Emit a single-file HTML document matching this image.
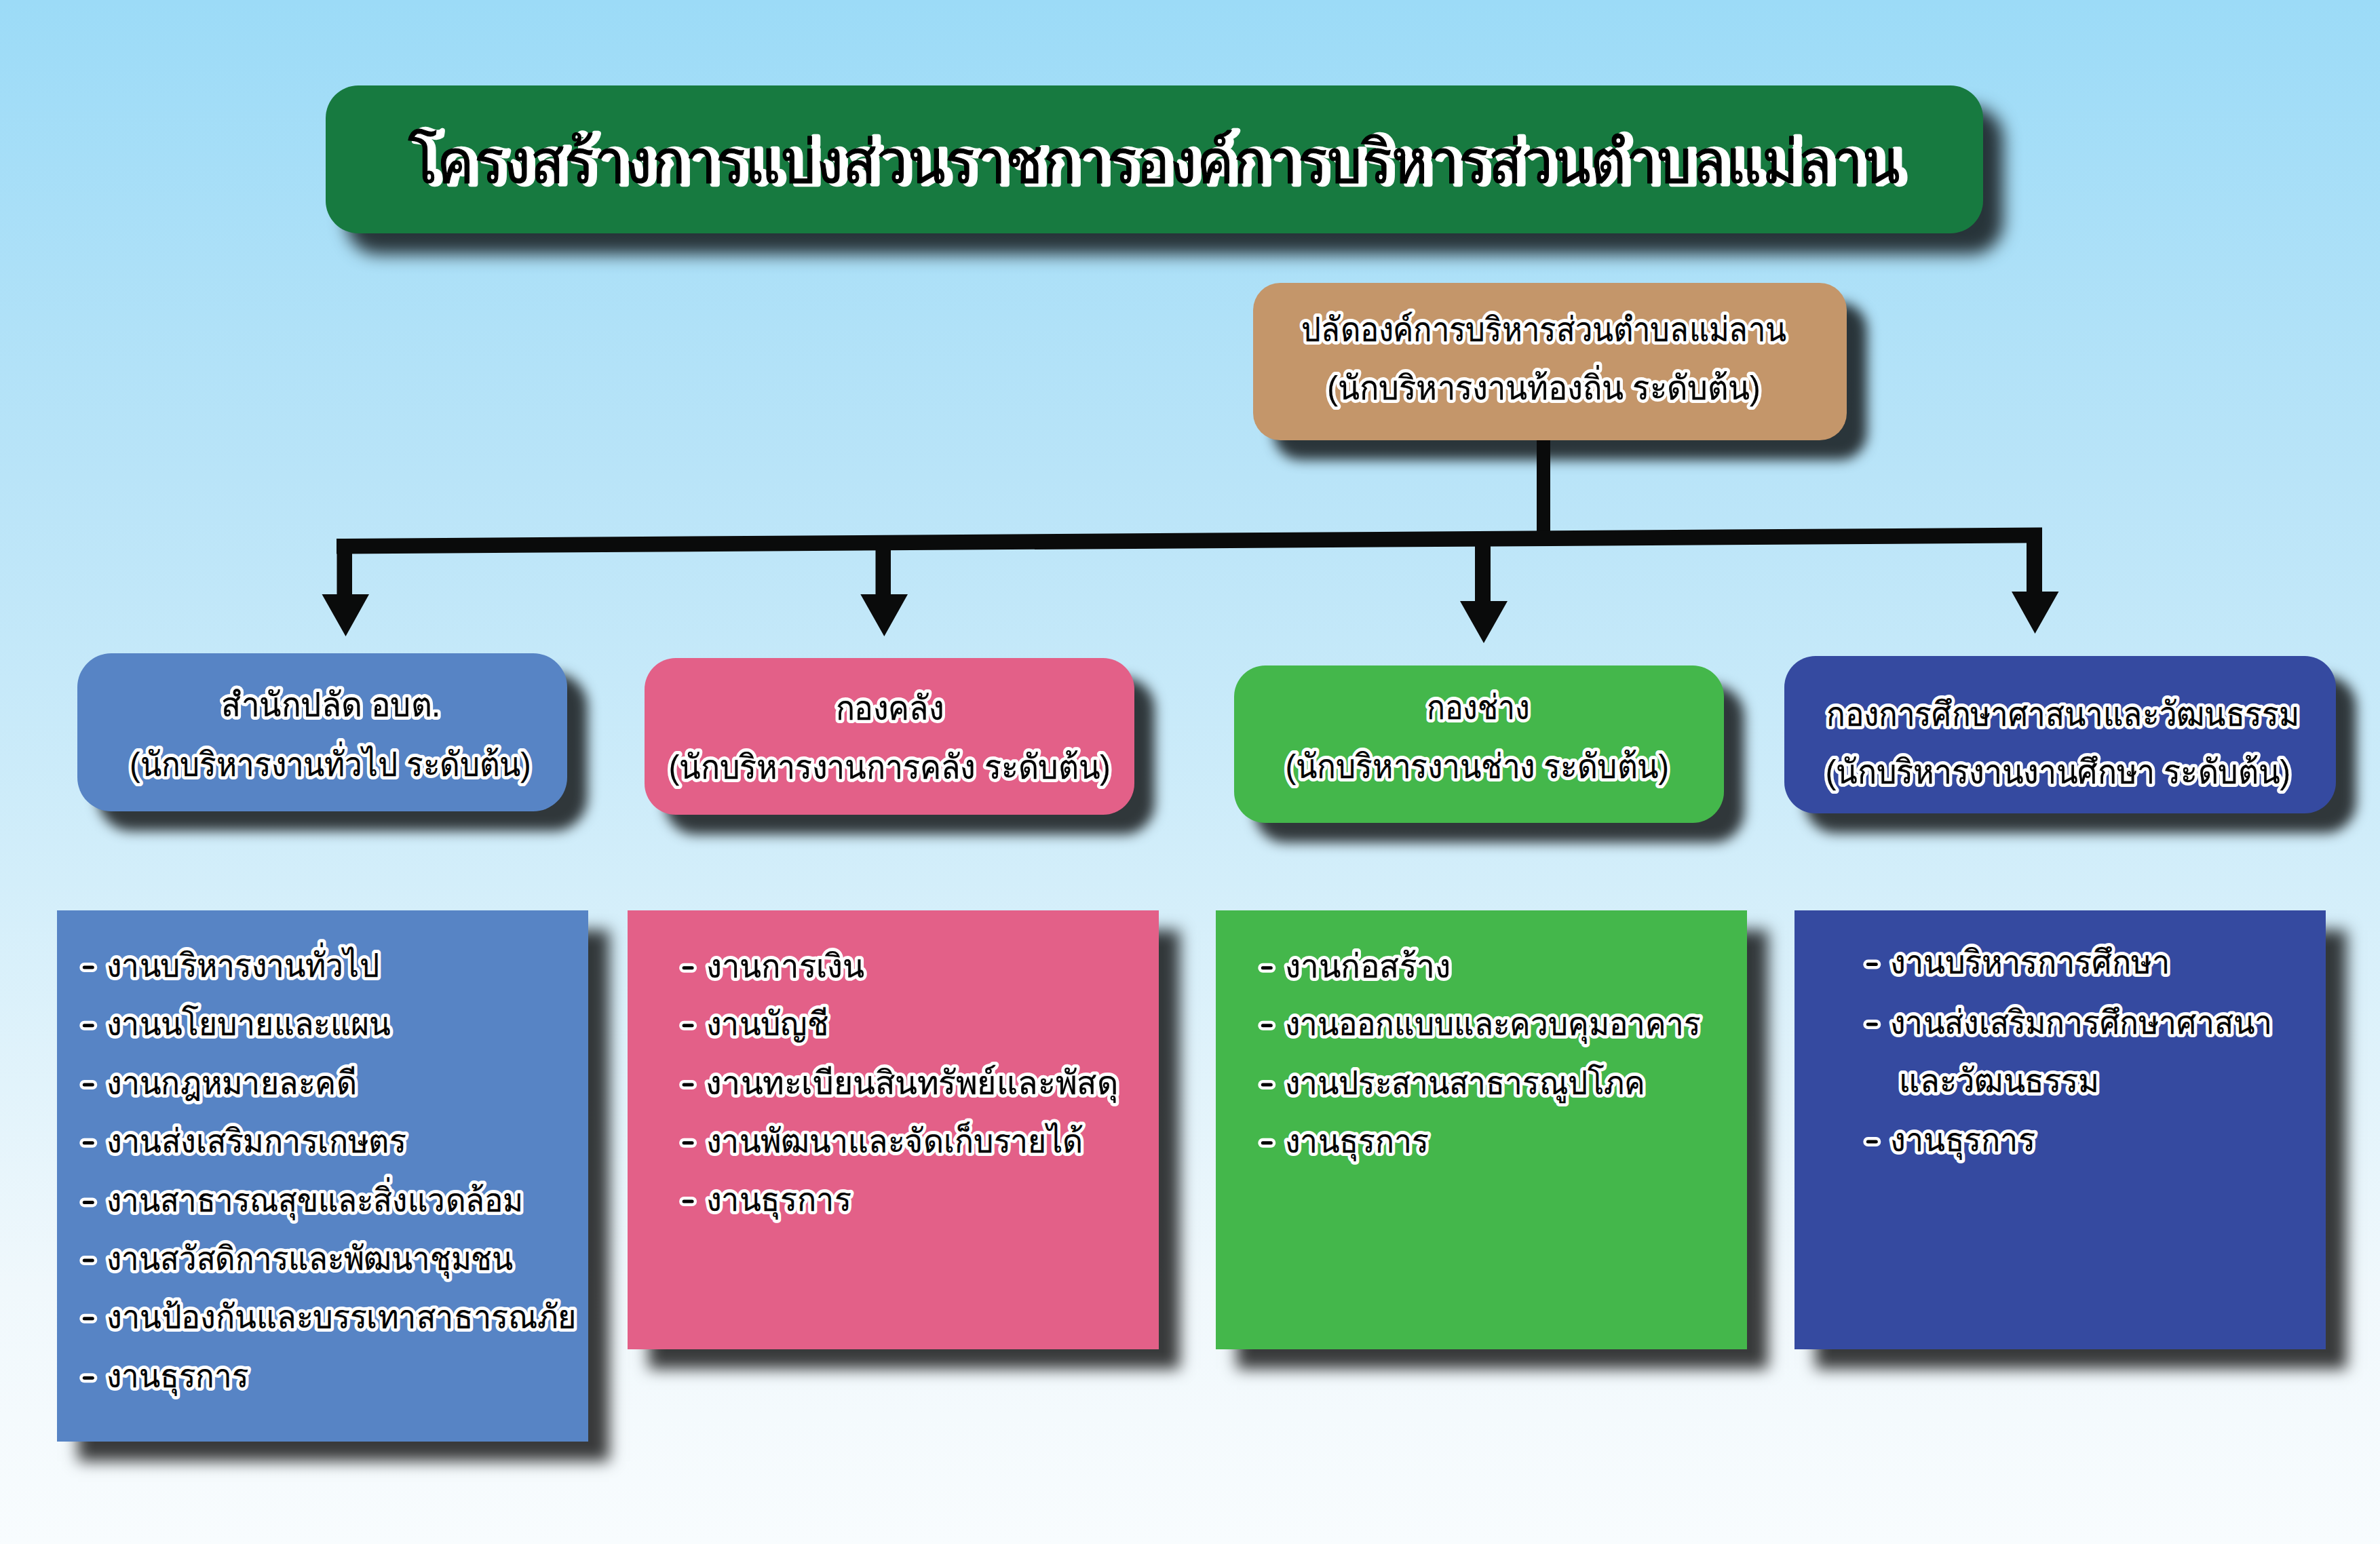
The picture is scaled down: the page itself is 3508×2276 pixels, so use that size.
<!DOCTYPE html>
<html lang="th">
<head>
<meta charset="utf-8">
<title>โครงสร้างการแบ่งส่วนราชการองค์การบริหารส่วนตำบลแม่ลาน</title>
<style>
html,body{margin:0;padding:0;}
body{width:3508px;height:2276px;overflow:hidden;position:relative;
  background:linear-gradient(to bottom,#9cdbf7 0px,#b9e4f8 700px,#d3eefa 1300px,#f0f8fc 1900px,#f8fcfe 2276px);
  font-family:"Liberation Sans",sans-serif;}
.box{position:absolute;}
.sh{box-shadow:30px 29px 18px rgba(0,0,0,0.77);}
.shb{box-shadow:31px 29px 21px rgba(0,0,0,0.77);}
svg{position:absolute;left:0;top:0;}
text{font-family:"Liberation Sans",sans-serif;font-weight:normal;stroke-linejoin:round;}
.ow{fill:#fff;stroke:#fff;stroke-width:10px;}
.ob{fill:#000;stroke:#000;stroke-width:0.25px;}
.tw{fill:#fff;stroke:#fff;stroke-width:8.5px;}
.tb{fill:#000;stroke:#000;stroke-width:1.2px;}
.d{stroke:#000;stroke-width:5px;stroke-linecap:round;fill:none;}
.dw{stroke:#fff;stroke-width:14px;stroke-linecap:round;fill:none;}
</style>
</head>
<body>
<div class="box" style="left:480px;top:126px;width:2443px;height:218px;background:#177a40;border-radius:48px;box-shadow:30px 31px 24px rgba(0,0,0,0.77)"></div>
<div class="box sh" style="left:1847px;top:417px;width:875px;height:232px;background:#c4966a;border-radius:40px"></div>

<div class="box sh" style="left:114px;top:963px;width:722px;height:233px;background:#5784c5;border-radius:50px"></div>
<div class="box sh" style="left:950px;top:970px;width:722px;height:231px;background:#e36088;border-radius:46px"></div>
<div class="box sh" style="left:1819px;top:981px;width:722px;height:232px;background:#44b74b;border-radius:46px"></div>
<div class="box sh" style="left:2630px;top:967px;width:813px;height:232px;background:#354aa0;border-radius:46px"></div>

<div class="box shb" style="left:84px;top:1342px;width:783px;height:783px;background:#5784c5"></div>
<div class="box shb" style="left:925px;top:1342px;width:783px;height:647px;background:#e36088"></div>
<div class="box shb" style="left:1792px;top:1342px;width:783px;height:647px;background:#44b74b"></div>
<div class="box shb" style="left:2645px;top:1342px;width:783px;height:647px;background:#354aa0"></div>

<svg width="3508" height="2276" viewBox="0 0 3508 2276">
  <g fill="#0a0b0b">
    <rect x="2265" y="649" width="20" height="140"/>
    <polygon points="496,794 3010,777.5 3010,800.3 496,816.5"/>
    <polygon points="496.5,810 519,810 519,876 544,876 509.5,938 474.5,876 496.5,876"/>
    <polygon points="1290.5,805 1313,805 1313,876 1338,876 1303.3,938 1268.3,876 1290.5,876"/>
    <polygon points="2174,800 2197,800 2197,886 2222,886 2187,948 2152,886 2174,886"/>
    <polygon points="2987,795 3010,795 3010,872 3034.5,872 2999.5,934 2965,872 2987,872"/>
  </g>
<text class="tw" x="601.0" y="269.0" font-size="88" textLength="2199.8" lengthAdjust="spacingAndGlyphs" transform="translate(9,0.5)">โครงสร้างการแบ่งส่วนราชการองค์การบริหารส่วนตำบลแม่ลาน</text>
<text class="tb" x="601.0" y="269.0" font-size="88" textLength="2199.8" lengthAdjust="spacingAndGlyphs">โครงสร้างการแบ่งส่วนราชการองค์การบริหารส่วนตำบลแม่ลาน</text>
<text class="ow" x="1918.4" y="503.0" font-size="50" textLength="714.4" lengthAdjust="spacingAndGlyphs">ปลัดองค์การบริหารส่วนตำบลแม่ลาน</text>
<text class="ob" x="1918.4" y="503.0" font-size="50" textLength="714.4" lengthAdjust="spacingAndGlyphs">ปลัดองค์การบริหารส่วนตำบลแม่ลาน</text>
<text class="ow" x="1956.2" y="588.7" font-size="50" textLength="638.6" lengthAdjust="spacingAndGlyphs">(นักบริหารงานท้องถิ่น ระดับต้น)</text>
<text class="ob" x="1956.2" y="588.7" font-size="50" textLength="638.6" lengthAdjust="spacingAndGlyphs">(นักบริหารงานท้องถิ่น ระดับต้น)</text>
<text class="ow" x="326.4" y="1056.3" font-size="50" textLength="322.9" lengthAdjust="spacingAndGlyphs">สำนักปลัด อบต.</text>
<text class="ob" x="326.4" y="1056.3" font-size="50" textLength="322.9" lengthAdjust="spacingAndGlyphs">สำนักปลัด อบต.</text>
<text class="ow" x="191.3" y="1143.8" font-size="50" textLength="591.2" lengthAdjust="spacingAndGlyphs">(นักบริหารงานทั่วไป ระดับต้น)</text>
<text class="ob" x="191.3" y="1143.8" font-size="50" textLength="591.2" lengthAdjust="spacingAndGlyphs">(นักบริหารงานทั่วไป ระดับต้น)</text>
<text class="ow" x="1231.5" y="1060.8" font-size="50" textLength="159.3" lengthAdjust="spacingAndGlyphs">กองคลัง</text>
<text class="ob" x="1231.5" y="1060.8" font-size="50" textLength="159.3" lengthAdjust="spacingAndGlyphs">กองคลัง</text>
<text class="ow" x="985.8" y="1147.8" font-size="50" textLength="651.0" lengthAdjust="spacingAndGlyphs">(นักบริหารงานการคลัง ระดับต้น)</text>
<text class="ob" x="985.8" y="1147.8" font-size="50" textLength="651.0" lengthAdjust="spacingAndGlyphs">(นักบริหารงานการคลัง ระดับต้น)</text>
<text class="ow" x="2102.9" y="1060.0" font-size="50" textLength="151.2" lengthAdjust="spacingAndGlyphs">กองช่าง</text>
<text class="ob" x="2102.9" y="1060.0" font-size="50" textLength="151.2" lengthAdjust="spacingAndGlyphs">กองช่าง</text>
<text class="ow" x="1894.8" y="1146.8" font-size="50" textLength="565.0" lengthAdjust="spacingAndGlyphs">(นักบริหารงานช่าง ระดับต้น)</text>
<text class="ob" x="1894.8" y="1146.8" font-size="50" textLength="565.0" lengthAdjust="spacingAndGlyphs">(นักบริหารงานช่าง ระดับต้น)</text>
<text class="ow" x="2692.3" y="1069.8" font-size="50" textLength="696.5" lengthAdjust="spacingAndGlyphs">กองการศึกษาศาสนาและวัฒนธรรม</text>
<text class="ob" x="2692.3" y="1069.8" font-size="50" textLength="696.5" lengthAdjust="spacingAndGlyphs">กองการศึกษาศาสนาและวัฒนธรรม</text>
<text class="ow" x="2690.7" y="1154.5" font-size="50" textLength="685.2" lengthAdjust="spacingAndGlyphs">(นักบริหารงานงานศึกษา ระดับต้น)</text>
<text class="ob" x="2690.7" y="1154.5" font-size="50" textLength="685.2" lengthAdjust="spacingAndGlyphs">(นักบริหารงานงานศึกษา ระดับต้น)</text>
<path class="dw" d="M124.3 1426.0H136.3"/><path class="d" d="M124.3 1426.0H136.3"/>
<text class="ow" x="156.8" y="1439.8" font-size="49" textLength="402.2" lengthAdjust="spacingAndGlyphs">งานบริหารงานทั่วไป</text>
<text class="ob" x="156.8" y="1439.8" font-size="49" textLength="402.2" lengthAdjust="spacingAndGlyphs">งานบริหารงานทั่วไป</text>
<path class="dw" d="M124.3 1511.7H136.3"/><path class="d" d="M124.3 1511.7H136.3"/>
<text class="ow" x="156.8" y="1525.5" font-size="49" textLength="418.9" lengthAdjust="spacingAndGlyphs">งานนโยบายและแผน</text>
<text class="ob" x="156.8" y="1525.5" font-size="49" textLength="418.9" lengthAdjust="spacingAndGlyphs">งานนโยบายและแผน</text>
<path class="dw" d="M124.3 1599.0H136.3"/><path class="d" d="M124.3 1599.0H136.3"/>
<text class="ow" x="156.8" y="1612.8" font-size="49" textLength="369.0" lengthAdjust="spacingAndGlyphs">งานกฎหมายละคดี</text>
<text class="ob" x="156.8" y="1612.8" font-size="49" textLength="369.0" lengthAdjust="spacingAndGlyphs">งานกฎหมายละคดี</text>
<path class="dw" d="M124.3 1684.8H136.3"/><path class="d" d="M124.3 1684.8H136.3"/>
<text class="ow" x="156.8" y="1698.6" font-size="49" textLength="441.8" lengthAdjust="spacingAndGlyphs">งานส่งเสริมการเกษตร</text>
<text class="ob" x="156.8" y="1698.6" font-size="49" textLength="441.8" lengthAdjust="spacingAndGlyphs">งานส่งเสริมการเกษตร</text>
<path class="dw" d="M124.3 1772.4H136.3"/><path class="d" d="M124.3 1772.4H136.3"/>
<text class="ow" x="156.8" y="1786.2" font-size="49" textLength="614.2" lengthAdjust="spacingAndGlyphs">งานสาธารณสุขและสิ่งแวดล้อม</text>
<text class="ob" x="156.8" y="1786.2" font-size="49" textLength="614.2" lengthAdjust="spacingAndGlyphs">งานสาธารณสุขและสิ่งแวดล้อม</text>
<path class="dw" d="M124.3 1858.0H136.3"/><path class="d" d="M124.3 1858.0H136.3"/>
<text class="ow" x="156.8" y="1871.8" font-size="49" textLength="598.7" lengthAdjust="spacingAndGlyphs">งานสวัสดิการและพัฒนาชุมชน</text>
<text class="ob" x="156.8" y="1871.8" font-size="49" textLength="598.7" lengthAdjust="spacingAndGlyphs">งานสวัสดิการและพัฒนาชุมชน</text>
<path class="dw" d="M124.3 1943.8H136.3"/><path class="d" d="M124.3 1943.8H136.3"/>
<text class="ow" x="156.7" y="1957.6" font-size="49" textLength="693.3" lengthAdjust="spacingAndGlyphs">งานป้องกันและบรรเทาสาธารณภัย</text>
<text class="ob" x="156.7" y="1957.6" font-size="49" textLength="693.3" lengthAdjust="spacingAndGlyphs">งานป้องกันและบรรเทาสาธารณภัย</text>
<path class="dw" d="M124.3 2031.2H136.3"/><path class="d" d="M124.3 2031.2H136.3"/>
<text class="ow" x="156.8" y="2045.0" font-size="49" textLength="209.7" lengthAdjust="spacingAndGlyphs">งานธุรการ</text>
<text class="ob" x="156.8" y="2045.0" font-size="49" textLength="209.7" lengthAdjust="spacingAndGlyphs">งานธุรการ</text>
<path class="dw" d="M1008.1 1426.7H1020.1"/><path class="d" d="M1008.1 1426.7H1020.1"/>
<text class="ow" x="1040.5" y="1440.5" font-size="49" textLength="233.2" lengthAdjust="spacingAndGlyphs">งานการเงิน</text>
<text class="ob" x="1040.5" y="1440.5" font-size="49" textLength="233.2" lengthAdjust="spacingAndGlyphs">งานการเงิน</text>
<path class="dw" d="M1008.1 1511.7H1020.1"/><path class="d" d="M1008.1 1511.7H1020.1"/>
<text class="ow" x="1040.6" y="1525.5" font-size="49" textLength="180.3" lengthAdjust="spacingAndGlyphs">งานบัญชี</text>
<text class="ob" x="1040.6" y="1525.5" font-size="49" textLength="180.3" lengthAdjust="spacingAndGlyphs">งานบัญชี</text>
<path class="dw" d="M1008.1 1599.0H1020.1"/><path class="d" d="M1008.1 1599.0H1020.1"/>
<text class="ow" x="1040.4" y="1612.8" font-size="49" textLength="607.7" lengthAdjust="spacingAndGlyphs">งานทะเบียนสินทรัพย์และพัสดุ</text>
<text class="ob" x="1040.4" y="1612.8" font-size="49" textLength="607.7" lengthAdjust="spacingAndGlyphs">งานทะเบียนสินทรัพย์และพัสดุ</text>
<path class="dw" d="M1008.1 1684.8H1020.1"/><path class="d" d="M1008.1 1684.8H1020.1"/>
<text class="ow" x="1040.6" y="1698.6" font-size="49" textLength="556.1" lengthAdjust="spacingAndGlyphs">งานพัฒนาและจัดเก็บรายได้</text>
<text class="ob" x="1040.6" y="1698.6" font-size="49" textLength="556.1" lengthAdjust="spacingAndGlyphs">งานพัฒนาและจัดเก็บรายได้</text>
<path class="dw" d="M1008.1 1771.0H1020.1"/><path class="d" d="M1008.1 1771.0H1020.1"/>
<text class="ow" x="1040.5" y="1784.8" font-size="49" textLength="214.1" lengthAdjust="spacingAndGlyphs">งานธุรการ</text>
<text class="ob" x="1040.5" y="1784.8" font-size="49" textLength="214.1" lengthAdjust="spacingAndGlyphs">งานธุรการ</text>
<path class="dw" d="M1861.3 1426.7H1873.3"/><path class="d" d="M1861.3 1426.7H1873.3"/>
<text class="ow" x="1893.7" y="1440.5" font-size="49" textLength="244.6" lengthAdjust="spacingAndGlyphs">งานก่อสร้าง</text>
<text class="ob" x="1893.7" y="1440.5" font-size="49" textLength="244.6" lengthAdjust="spacingAndGlyphs">งานก่อสร้าง</text>
<path class="dw" d="M1861.3 1511.7H1873.3"/><path class="d" d="M1861.3 1511.7H1873.3"/>
<text class="ow" x="1893.8" y="1525.5" font-size="49" textLength="612.1" lengthAdjust="spacingAndGlyphs">งานออกแบบและควบคุมอาคาร</text>
<text class="ob" x="1893.8" y="1525.5" font-size="49" textLength="612.1" lengthAdjust="spacingAndGlyphs">งานออกแบบและควบคุมอาคาร</text>
<path class="dw" d="M1861.3 1599.0H1873.3"/><path class="d" d="M1861.3 1599.0H1873.3"/>
<text class="ow" x="1893.8" y="1612.8" font-size="49" textLength="530.9" lengthAdjust="spacingAndGlyphs">งานประสานสาธารณูปโภค</text>
<text class="ob" x="1893.8" y="1612.8" font-size="49" textLength="530.9" lengthAdjust="spacingAndGlyphs">งานประสานสาธารณูปโภค</text>
<path class="dw" d="M1861.3 1684.8H1873.3"/><path class="d" d="M1861.3 1684.8H1873.3"/>
<text class="ow" x="1893.8" y="1698.6" font-size="49" textLength="212.1" lengthAdjust="spacingAndGlyphs">งานธุรการ</text>
<text class="ob" x="1893.8" y="1698.6" font-size="49" textLength="212.1" lengthAdjust="spacingAndGlyphs">งานธุรการ</text>
<path class="dw" d="M2753.3 1421.6H2765.3"/><path class="d" d="M2753.3 1421.6H2765.3"/>
<text class="ow" x="2785.7" y="1435.4" font-size="49" textLength="412.8" lengthAdjust="spacingAndGlyphs">งานบริหารการศึกษา</text>
<text class="ob" x="2785.7" y="1435.4" font-size="49" textLength="412.8" lengthAdjust="spacingAndGlyphs">งานบริหารการศึกษา</text>
<path class="dw" d="M2753.3 1510.0H2765.3"/><path class="d" d="M2753.3 1510.0H2765.3"/>
<text class="ow" x="2785.8" y="1523.8" font-size="49" textLength="563.9" lengthAdjust="spacingAndGlyphs">งานส่งเสริมการศึกษาศาสนา</text>
<text class="ob" x="2785.8" y="1523.8" font-size="49" textLength="563.9" lengthAdjust="spacingAndGlyphs">งานส่งเสริมการศึกษาศาสนา</text>
<text class="ow" x="2799.2" y="1609.5" font-size="49" textLength="294.2" lengthAdjust="spacingAndGlyphs">และวัฒนธรรม</text>
<text class="ob" x="2799.2" y="1609.5" font-size="49" textLength="294.2" lengthAdjust="spacingAndGlyphs">และวัฒนธรรม</text>
<path class="dw" d="M2753.3 1683.0H2765.3"/><path class="d" d="M2753.3 1683.0H2765.3"/>
<text class="ow" x="2785.7" y="1696.8" font-size="49" textLength="214.1" lengthAdjust="spacingAndGlyphs">งานธุรการ</text>
<text class="ob" x="2785.7" y="1696.8" font-size="49" textLength="214.1" lengthAdjust="spacingAndGlyphs">งานธุรการ</text>
</svg>
</body>
</html>
